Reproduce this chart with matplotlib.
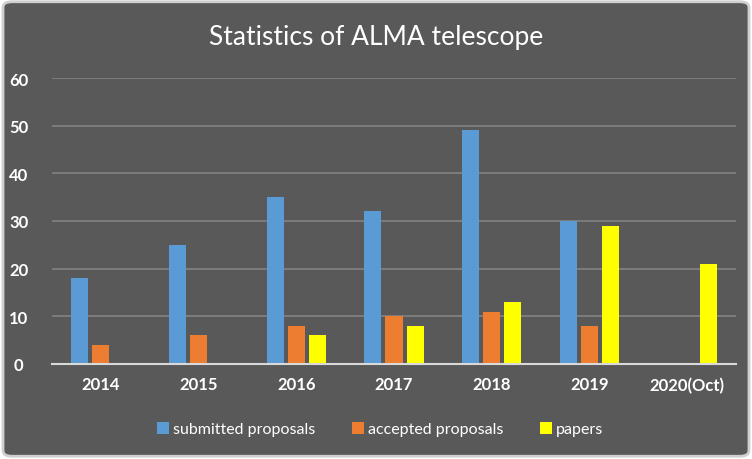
import numpy as np
from matplotlib import pyplot as plt
from matplotlib.patches import FancyBboxPatch, Patch

years = ["2014", "2015", "2016", "2017", "2018", "2019", "2020(Oct)"]
submitted = [18, 25, 35, 32, 49, 30, 0]
accepted = [4, 6, 8, 10, 11, 8, 0]
papers = [0, 0, 6, 8, 13, 29, 21]

bg = "#595959"
colors = ["#5B9BD5", "#ED7D31", "#FFFF00"]
labels = ["submitted proposals", "accepted proposals", "papers"]

plt.rcParams["font.family"] = ["Lato", "DejaVu Sans"]

fig = plt.figure(figsize=(7.52, 4.6), dpi=100)
fig.patch.set_facecolor("white")
frame = FancyBboxPatch((0.004, 0.006), 0.992, 0.988, boxstyle="round,pad=0,rounding_size=0.012",
                       transform=fig.transFigure, facecolor=bg, edgecolor="#d0d0d0",
                       linewidth=2, zorder=-10)
fig.patches.append(frame)

ax = fig.add_axes([52 / 752, 1 - 365 / 460, (736 - 52) / 752, (365 - 79) / 460])
ax.set_facecolor(bg)

x = np.arange(len(years))
w = 0.174
step = 0.215
for i, (vals, c) in enumerate(zip([submitted, accepted, papers], colors)):
    ax.bar(x + (i - 1) * step, vals, width=w, color=c, zorder=3)

ax.set_xlim(-0.5, len(years) - 0.5)
ax.set_ylim(0, 60)
ax.set_yticks(range(0, 61, 10))
ax.set_xticks(x)
ax.set_xticklabels(years)
ax.grid(axis="y", color="#7f7f7f", linewidth=1.3, zorder=0)
for s in ["top", "right", "left"]:
    ax.spines[s].set_visible(False)
ax.spines["bottom"].set_color("#d9d9d9")
ax.spines["bottom"].set_linewidth(1.5)
ax.spines["bottom"].set_zorder(4)
ax.tick_params(length=0, colors="white", labelsize=12, pad=9)
for t in ax.get_xticklabels() + ax.get_yticklabels():
    t.set_fontweight("bold")
ax.tick_params(axis="y", pad=24)
for t in ax.get_yticklabels():
    t.set_horizontalalignment("center")

fig.text(0.5, 1 - 37 / 460, "Statistics of ALMA telescope", color="white",
         fontsize=19, ha="center", va="center")

handles = [Patch(facecolor=c, label=l) for c, l in zip(colors, labels)]
fig.legend(handles=handles, loc="center", bbox_to_anchor=(0.505, 1 - 430 / 460), ncol=3,
           frameon=False, fontsize=11.5, labelcolor="white", handlelength=0.8,
           handleheight=0.8, handletextpad=0.2, columnspacing=2.3)

fig.savefig("out.png", dpi=100, facecolor=fig.get_facecolor())
